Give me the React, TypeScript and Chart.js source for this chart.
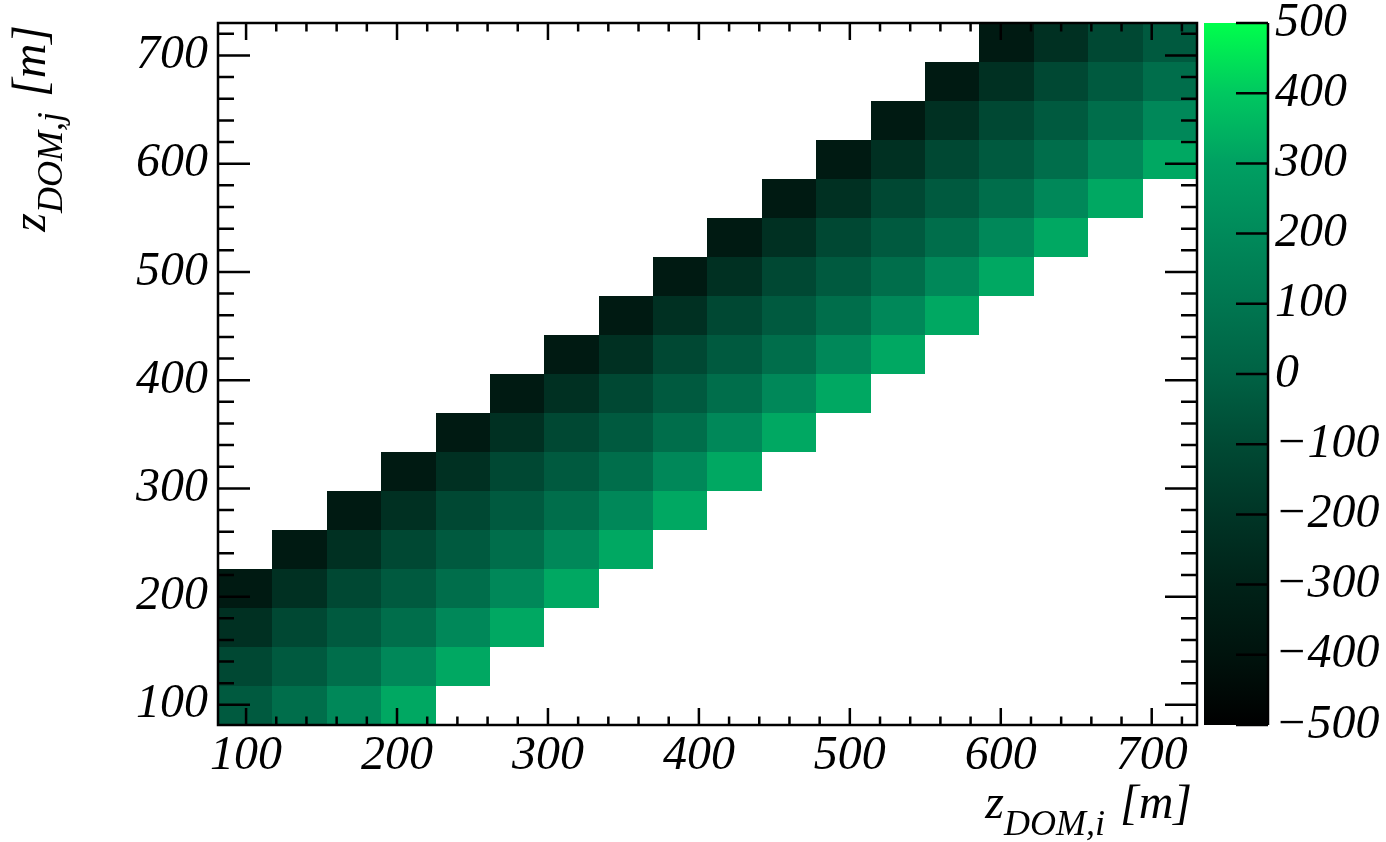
import React, { useEffect, useRef } from 'react';
import { Chart, registerables } from 'chart.js';

Chart.register(...registerables);

// ---------------- data ----------------
const _ = null;
// bin centres (DOM depths) for both axes, in metres
const zCenters = [99.4, 135.4, 171.5, 207.5, 243.5, 279.6, 315.6, 351.6, 387.7, 423.7, 459.7, 495.7, 531.8, 567.8, 603.8, 639.9, 675.9, 711.9];
const binHalfWidth = 18.0;
const axisMin = 81.4;
const axisMax = 730.0;
const axisMajorTicks = [100, 200, 300, 400, 500, 600, 700];
const colorbarMin = -500;
const colorbarMax = 500;
const colorbarTicks = [-500, -400, -300, -200, -100, 0, 100, 200, 300, 400, 500];

// cell values, row j = z_DOM,j bin (bottom to top), column i = z_DOM,i bin (left to right)
const zRows: (number | null)[][] = [
  [-33, 60, 190, 320, _, _, _, _, _, _, _, _, _, _, _, _, _, _],
  [-110, -33, 60, 190, 320, _, _, _, _, _, _, _, _, _, _, _, _, _],
  [-226, -110, -33, 60, 190, 320, _, _, _, _, _, _, _, _, _, _, _, _],
  [-353, -226, -110, -33, 60, 190, 320, _, _, _, _, _, _, _, _, _, _, _],
  [_, -353, -226, -110, -33, 60, 190, 320, _, _, _, _, _, _, _, _, _, _],
  [_, _, -353, -226, -110, -33, 60, 190, 320, _, _, _, _, _, _, _, _, _],
  [_, _, _, -353, -226, -110, -33, 60, 190, 320, _, _, _, _, _, _, _, _],
  [_, _, _, _, -353, -226, -110, -33, 60, 190, 320, _, _, _, _, _, _, _],
  [_, _, _, _, _, -353, -226, -110, -33, 60, 190, 320, _, _, _, _, _, _],
  [_, _, _, _, _, _, -353, -226, -110, -33, 60, 190, 320, _, _, _, _, _],
  [_, _, _, _, _, _, _, -353, -226, -110, -33, 60, 190, 320, _, _, _, _],
  [_, _, _, _, _, _, _, _, -353, -226, -110, -33, 60, 190, 320, _, _, _],
  [_, _, _, _, _, _, _, _, _, -353, -226, -110, -33, 60, 190, 320, _, _],
  [_, _, _, _, _, _, _, _, _, _, -353, -226, -110, -33, 60, 190, 320, _],
  [_, _, _, _, _, _, _, _, _, _, _, -353, -226, -110, -33, 60, 190, 320],
  [_, _, _, _, _, _, _, _, _, _, _, _, -353, -226, -110, -33, 60, 190],
  [_, _, _, _, _, _, _, _, _, _, _, _, _, -353, -226, -110, -33, 60],
  [_, _, _, _, _, _, _, _, _, _, _, _, _, _, -353, -226, -110, -33],
];

// ---------------- palette (style) ----------------
const paletteStops = [-500, -400, -300, -200, -100, 0, 100, 200, 300, 400, 500];
const paletteR = [0, 0, 0, 0, 0, 0, 0, 0, 0, 0, 0];
const paletteG = [0, 19, 34, 53, 74, 98, 118, 138, 160, 200, 255];
const paletteB = [0, 13, 24, 38, 52, 68, 80, 90, 98, 96, 76];

function paletteColor(v: number): string {
  const n = paletteStops.length;
  if (v <= paletteStops[0]) return `rgb(${paletteR[0]},${paletteG[0]},${paletteB[0]})`;
  if (v >= paletteStops[n - 1]) return `rgb(${paletteR[n - 1]},${paletteG[n - 1]},${paletteB[n - 1]})`;
  for (let k = 0; k < n - 1; k++) {
    if (v >= paletteStops[k] && v <= paletteStops[k + 1]) {
      const t = (v - paletteStops[k]) / (paletteStops[k + 1] - paletteStops[k]);
      const r = Math.round(paletteR[k] + t * (paletteR[k + 1] - paletteR[k]));
      const g = Math.round(paletteG[k] + t * (paletteG[k + 1] - paletteG[k]));
      const b = Math.round(paletteB[k] + t * (paletteB[k + 1] - paletteB[k]));
      return `rgb(${r},${g},${b})`;
    }
  }
  return '#000';
}

const FONT_FAMILY = '"Liberation Serif", "Times New Roman", serif';
const tickFont = { family: FONT_FAMILY, size: 48, style: 'italic' as const, weight: 'normal' as const };

function drawSubscriptText(ctx: CanvasRenderingContext2D, main: string, sub: string, tail: string, xEnd: number, baseline: number) {
  const mainFont = `italic 48px ${FONT_FAMILY}`;
  const subFont = `italic 36px ${FONT_FAMILY}`;
  const gap = 3;
  ctx.font = mainFont;
  const w1 = ctx.measureText(main).width;
  const w3 = ctx.measureText(tail).width;
  ctx.font = subFont;
  const w2 = ctx.measureText(sub).width;
  let x = xEnd - (w1 + w2 + w3 + gap);
  ctx.textAlign = 'left';
  ctx.textBaseline = 'alphabetic';
  ctx.fillStyle = '#000';
  ctx.font = mainFont;
  ctx.fillText(main, x, baseline);
  x += w1;
  ctx.font = subFont;
  ctx.fillText(sub, x, baseline + 17);
  x += w2 + gap;
  ctx.font = mainFont;
  ctx.fillText(tail, x, baseline);
}

const heatmapPlugin = {
  id: 'heatmapCells',
  afterDatasetsDraw(chart: any) {
    const ctx: CanvasRenderingContext2D = chart.ctx;
    const xs = chart.scales.x;
    const ys = chart.scales.y;
    const cb = chart.scales.cb;
    const area = chart.chartArea;
    const pts = chart.data.datasets[0].data as { x: number; y: number; v: number; hw: number }[];

    ctx.save();
    // cells
    for (const p of pts) {
      const x0 = Math.round(xs.getPixelForValue(p.x - p.hw));
      const x1 = Math.round(xs.getPixelForValue(p.x + p.hw));
      const y0 = Math.round(ys.getPixelForValue(p.y - p.hw));
      const y1 = Math.round(ys.getPixelForValue(p.y + p.hw));
      ctx.fillStyle = paletteColor(p.v);
      ctx.fillRect(x0, y1, x1 - x0, y0 - y1);
    }

    // ticks (inward, all four sides)
    ctx.strokeStyle = '#000';
    ctx.lineWidth = 2.5;
    ctx.lineCap = 'butt';
    const xMajLen = 17, xMinLen = 8.5, yMajLen = 32, yMinLen = 16;
    ctx.beginPath();
    for (let t = 100; t <= 720; t += 20) {
      const major = t % 100 === 0;
      if (t >= xs.min && t <= xs.max) {
        const px = xs.getPixelForValue(t);
        const l = major ? xMajLen : xMinLen;
        ctx.moveTo(px, area.bottom); ctx.lineTo(px, area.bottom - l);
        ctx.moveTo(px, area.top); ctx.lineTo(px, area.top + l);
      }
      if (t >= ys.min && t <= ys.max) {
        const py = ys.getPixelForValue(t);
        const l = major ? yMajLen : yMinLen;
        ctx.moveTo(area.left, py); ctx.lineTo(area.left + l, py);
        ctx.moveTo(area.right, py); ctx.lineTo(area.right - l, py);
      }
    }
    ctx.stroke();

    // frame
    ctx.lineWidth = 2.5;
    ctx.strokeRect(area.left, area.top, area.right - area.left, area.bottom - area.top);

    // colour bar
    const cbLeft = area.right + 7;
    const cbRight = area.right + 71;
    const cbTop = cb.getPixelForValue(colorbarMax);
    const cbBottom = cb.getPixelForValue(colorbarMin);
    const grad = ctx.createLinearGradient(0, cbBottom, 0, cbTop);
    for (let k = 0; k < paletteStops.length; k++) {
      grad.addColorStop((paletteStops[k] - colorbarMin) / (colorbarMax - colorbarMin), `rgb(${paletteR[k]},${paletteG[k]},${paletteB[k]})`);
    }
    ctx.fillStyle = grad;
    ctx.fillRect(cbLeft, cbTop, cbRight - cbLeft, cbBottom - cbTop);
    ctx.beginPath();
    ctx.moveTo(cbRight, cbTop); ctx.lineTo(cbRight, cbBottom);
    for (const t of colorbarTicks) {
      const py = cb.getPixelForValue(t);
      ctx.moveTo(cbRight, py); ctx.lineTo(cbRight - 32, py);
    }
    ctx.stroke();

    // axis titles
    drawSubscriptText(ctx, 'z', 'DOM,i', ' [m]', area.right - 5, area.bottom + 93);
    ctx.translate(45, area.top + 2);
    ctx.rotate(-Math.PI / 2);
    drawSubscriptText(ctx, 'z', 'DOM,j', ' [m]', 0, 0);
    ctx.restore();
  },
};

export default function App() {
  const ref = useRef<HTMLCanvasElement>(null);
  useEffect(() => {
    document.body.style.margin = '0';
    const canvas = ref.current;
    if (!canvas) return;
    const cells: { x: number; y: number; v: number; hw: number }[] = [];
    zRows.forEach((row, j) => {
      row.forEach((v, i) => {
        if (v !== null) cells.push({ x: zCenters[i], y: zCenters[j], v, hw: binHalfWidth });
      });
    });
    const chart = new Chart(canvas, {
      type: 'scatter',
      data: {
        datasets: [
          {
            label: 'cells',
            data: cells as any,
            pointRadius: 0,
            pointHoverRadius: 0,
            xAxisID: 'x',
            yAxisID: 'y',
          },
        ],
      },
      options: {
        animation: false,
        responsive: false,
        maintainAspectRatio: false,
        events: [],
        layout: { padding: { top: 23, left: 0, right: 0, bottom: 0 } },
        plugins: { legend: { display: false }, tooltip: { enabled: false }, title: { display: false } },
        scales: {
          x: {
            type: 'linear',
            position: 'bottom',
            min: axisMin,
            max: axisMax,
            grid: { display: false, drawTicks: false },
            border: { display: false },
            ticks: { font: tickFont, color: '#000', padding: 3, autoSkip: false, maxRotation: 0 },
            afterBuildTicks: (s: any) => { s.ticks = axisMajorTicks.map((v) => ({ value: v })); },
            afterFit: (s: any) => { s.height = 117; s.paddingLeft = 0; s.paddingRight = 0; },
          },
          y: {
            type: 'linear',
            position: 'left',
            min: axisMin,
            max: axisMax,
            grid: { display: false, drawTicks: false },
            border: { display: false },
            ticks: { font: tickFont, color: '#000', padding: 10, autoSkip: false },
            afterBuildTicks: (s: any) => { s.ticks = axisMajorTicks.map((v) => ({ value: v })); },
            afterFit: (s: any) => { s.width = 218; s.paddingTop = 0; s.paddingBottom = 0; },
          },
          cb: {
            type: 'linear',
            axis: 'y',
            position: 'right',
            min: colorbarMin,
            max: colorbarMax,
            grid: { display: false, drawTicks: false },
            border: { display: false },
            ticks: {
              font: tickFont,
              color: '#000',
              padding: 78,
              autoSkip: false,
              callback: (v: any) => (Number(v) < 0 ? '\u2212' + Math.abs(Number(v)) : String(v)),
            },
            afterBuildTicks: (s: any) => { s.ticks = colorbarTicks.map((v) => ({ value: v })); },
            afterFit: (s: any) => { s.width = 189; s.paddingTop = 0; s.paddingBottom = 0; },
          },
        } as any,
      },
      plugins: [heatmapPlugin],
    });
    return () => chart.destroy();
  }, []);
  return (
    <div style={{ width: 1386, height: 842, background: '#fff' }}>
      <canvas ref={ref} width={1386} height={842} style={{ display: 'block', width: 1386, height: 842 }} />
    </div>
  );
}
